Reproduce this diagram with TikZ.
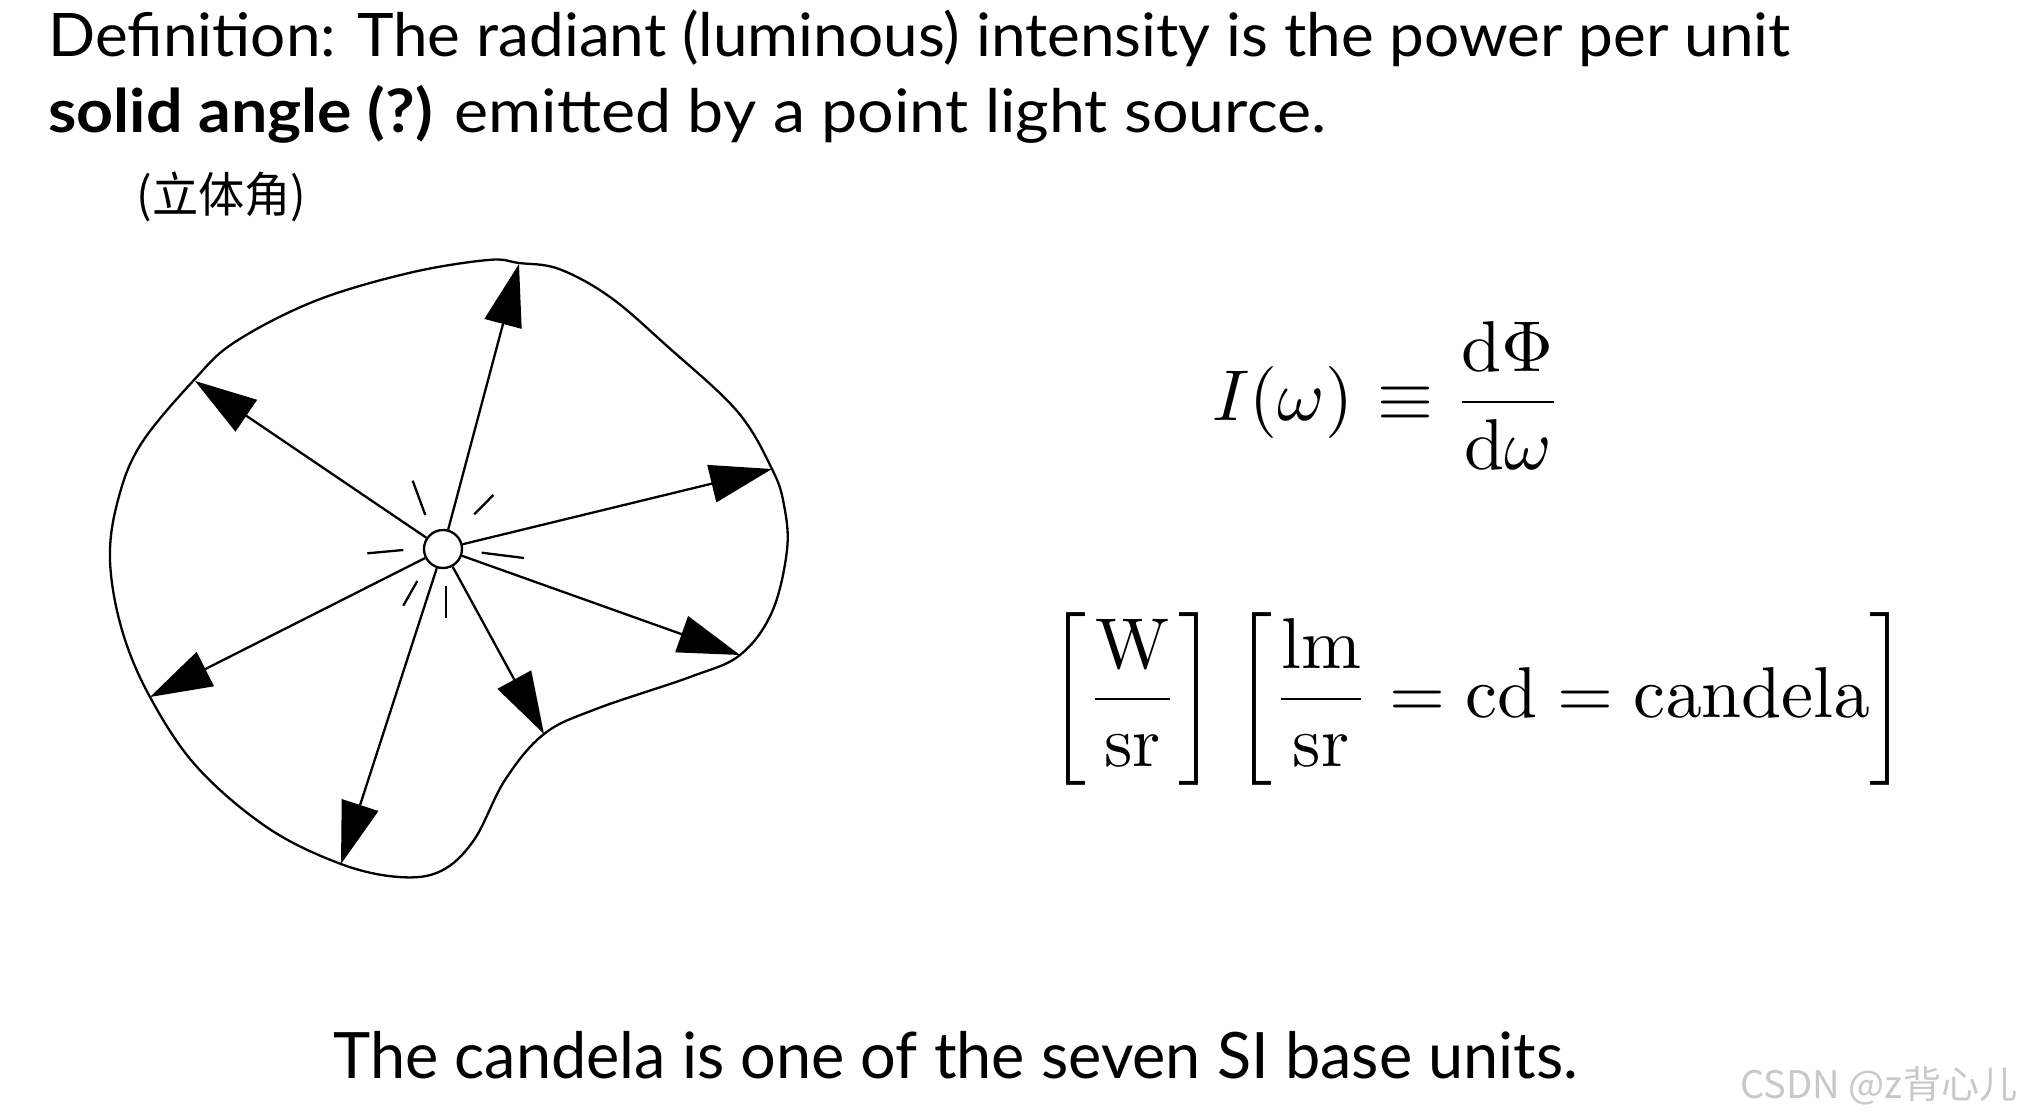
\documentclass[tikz,border=0pt]{standalone}
\usepackage[no-math]{fontspec}
\usepackage{graphicx}
\newfontfamily\lato{Lato}
\newfontfamily\cjk{Noto Sans CJK SC}
\usetikzlibrary{arrows.meta}
\definecolor{wmgray}{RGB}{200,200,200}
\begin{document}
\begin{tikzpicture}[x=0.5pt,y=-0.5pt,
  outline/.style={line width=1.15pt},
  ray/.style={line width=1.15pt,-{Triangle[length=31pt,width=19pt]}},
  glint/.style={line width=1.15pt},
  txt/.style={inner sep=0pt,anchor=base west}]
\useasboundingbox (0,0) rectangle (2025,1119);

% title text
\node[txt] (l1) at (48,56) {\resizebox{871pt}{\height}{\lato\fontsize{30}{36}\selectfont Definition: The radiant (luminous) intensity is the power per unit}};
\node[txt] (l2) at (48,132) {\resizebox{639pt}{\height}{\lato\fontsize{30}{36}\selectfont {\bfseries solid angle (?)} emitted by a point light source.}};
\node[txt] (l3) at (136,212) {\resizebox{85pt}{\height}{\cjk\fontsize{24}{28}\selectfont (立体角)}};

% blob
\draw[outline] plot[smooth cycle, tension=0.6] coordinates {
 (488,260) (519,263) (559,269) (610,297) (667,346) (737,411) (772,469)
 (784,505) (787,550) (772,612) (740,655) (690,677) (596,709) (544,734)
 (505,780) (474,840) (441,871) (399,877) (341,864) (268,828) (197,767)
 (150,697) (122,630) (110,560) (118,500) (141,444) (194,380) (235,342)
 (315,301) (409,273)};

% source
\node[circle,draw,line width=1.15pt,minimum size=19pt,inner sep=0pt,fill=white] (src) at (443,549) {};

\coordinate (t1) at (519,264);
\coordinate (t2) at (195,381);
\coordinate (t3) at (772,469);
\coordinate (t4) at (740,655);
\coordinate (t5) at (544,734);
\coordinate (t6) at (341,864);
\coordinate (t7) at (150,697);
\foreach \t in {t1,t2,t3,t4,t5,t6,t7} \draw[ray] (src) -- (\t);

% glints
\coordinate (g1a) at (412.7,480.7); \coordinate (g1b) at (425.3,515);
\coordinate (g2a) at (493.3,495);   \coordinate (g2b) at (474.3,514.3);
\coordinate (g3a) at (367.3,553.3); \coordinate (g3b) at (403.3,550);
\coordinate (g4a) at (481.7,552.7); \coordinate (g4b) at (524,558);
\coordinate (g5a) at (417.3,581);   \coordinate (g5b) at (403.3,605.7);
\coordinate (g6a) at (446,586);     \coordinate (g6b) at (446,618.3);
\foreach \g in {g1,g2,g3,g4,g5,g6} \draw[glint] (\g a) -- (\g b);

% equations
\node[txt] (eq1) at (1212,420) {\scalebox{3.6}{$\displaystyle I(\omega)\mkern1mu\equiv\frac{\mathrm{d}\Phi}{\mathrm{d}\omega}$}};
\node[txt] (eq2) at (1048,717) {\scalebox{3.6}{$\displaystyle \left[\frac{\mathrm{W}}{\mathrm{sr}}\right]\hspace{0.8pt}\left[\frac{\mathrm{lm}}{\mathrm{sr}}=\mathrm{cd}=\mathrm{candela}\right]$}};

% bottom line
\node[txt] (l4) at (333,1078) {\resizebox{622.5pt}{\height}{\lato\fontsize{32}{38}\selectfont The candela is one of the seven SI base units.}};

% watermark
\node[txt,text=wmgray] (wm) at (1740,1098) {\resizebox{138.5pt}{\height}{\cjk\fontsize{19}{22}\selectfont CSDN @z背心儿}};
\end{tikzpicture}
\end{document}
